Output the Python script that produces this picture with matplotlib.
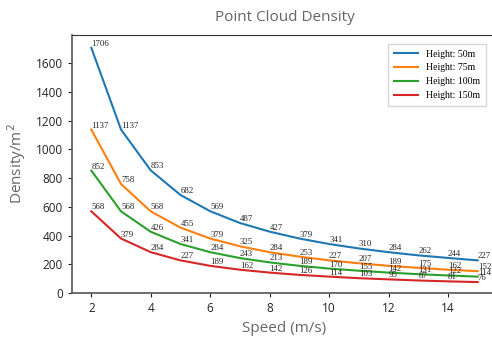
import matplotlib
matplotlib.use('Agg')
import matplotlib.pyplot as plt

speeds = list(range(2, 16))
heights = ['Height: 50m', 'Height: 75m', 'Height: 100m', 'Height: 150m']
density_50 = [1706, 1137, 853, 682, 569, 487, 427, 379, 341, 310, 284, 262, 244, 227]
density_75 = [1137, 758, 568, 455, 379, 325, 284, 253, 227, 207, 189, 175, 162, 152]
density_100 = [852, 568, 426, 341, 284, 243, 213, 189, 170, 155, 142, 131, 122, 114]
density_150 = [568, 379, 284, 227, 189, 162, 142, 126, 114, 103, 95, 87, 81, 76]
series = [density_50, density_75, density_100, density_150]
colors = ['#1f77b4', '#ff7f0e', '#2ca02c', '#d62728']

GRAY = '#666666'

fig = plt.figure(figsize=(4.92, 3.4), dpi=100)
ax = fig.add_axes([72 / 492, 1 - 293 / 340, (497 - 72) / 492, (293 - 35) / 340])

for vals, label, c in zip(series, heights, colors):
    ax.plot(speeds, vals, color=c, lw=1.5, label=label)
    for x, y in zip(speeds, vals):
        ax.text(x, y, str(y), fontsize=6.3, family='Liberation Serif',
                ha='left', va='bottom', color='#222222')

ax.set_xlim(1.35, 15.65)
ax.set_ylim(0, 1795)
ax.set_xticks([2, 4, 6, 8, 10, 12, 14])
ax.set_yticks(range(0, 1601, 200))
for t in ax.get_xticklabels() + ax.get_yticklabels():
    t.set_family('Open Sans')
    t.set_fontsize(8.5)
ax.tick_params(colors='#222222', length=3)

for s in ['left', 'bottom']:
    ax.spines[s].set_color('#555555')
    ax.spines[s].set_linewidth(1.2)
ax.spines['top'].set_color('#333333')
ax.spines['top'].set_linewidth(0.8)
ax.spines['right'].set_visible(False)

ax.set_xlabel('Speed (m/s)', family='Open Sans', fontsize=11, color=GRAY)
ax.set_ylabel('Density/m$^2$', family='Open Sans', fontsize=11, color=GRAY, labelpad=6)
ax.set_title('Point Cloud Density', family='Open Sans', fontsize=11, color=GRAY, pad=10)

leg = ax.legend(loc='upper right', bbox_to_anchor=(0.985, 0.985),
                prop={'family': 'Liberation Serif', 'size': 7},
                handlelength=2.5, fancybox=False, borderpad=0.6)
leg.get_frame().set_edgecolor('#cccccc')

fig.savefig('out.png', dpi=100)
